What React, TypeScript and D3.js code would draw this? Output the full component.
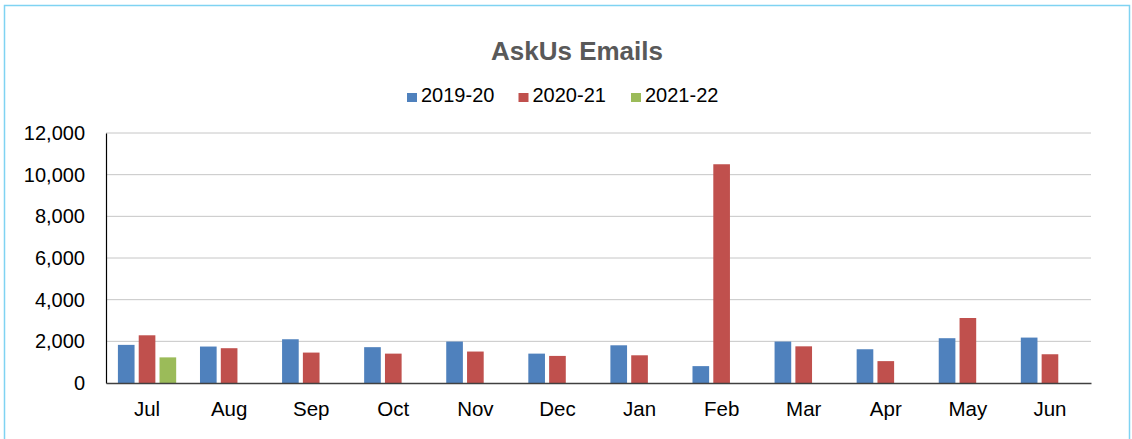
import React, { useEffect, useRef } from 'react';
import * as d3 from 'd3';

const months = ['Jul', 'Aug', 'Sep', 'Oct', 'Nov', 'Dec', 'Jan', 'Feb', 'Mar', 'Apr', 'May', 'Jun'];
const seriesNames = ['2019-20', '2020-21', '2021-22'];
const seriesColors = ['#4f81bd', '#c0504d', '#9bbb59'];
const values1920 = [1830, 1750, 2100, 1720, 1990, 1410, 1810, 810, 1990, 1620, 2150, 2180];
const values2021 = [2290, 1670, 1460, 1410, 1510, 1300, 1330, 10500, 1760, 1050, 3120, 1380];
const values2122: (number | null)[] = [1230, null, null, null, null, null, null, null, null, null, null, null];
const yTicks = [0, 2000, 4000, 6000, 8000, 10000, 12000];

export default function App() {
  const svgRef = useRef<SVGSVGElement | null>(null);
  const width = 1132;
  const height = 439;

  useEffect(() => {
    const svg = d3.select(svgRef.current!);
    svg.selectAll('*').remove();
    const margin = { top: 133, right: 41, bottom: 56, left: 106 };
    const font = 'Liberation Sans, Arial, sans-serif';

    // outer frame
    svg
      .append('rect')
      .attr('x', 4.5)
      .attr('y', 5.5)
      .attr('width', width - 7)
      .attr('height', height + 20)
      .attr('fill', 'white')
      .attr('stroke', '#7fd3f2')
      .attr('stroke-width', 1.5);

    svg
      .append('text')
      .attr('x', 577)
      .attr('y', 60)
      .attr('text-anchor', 'middle')
      .attr('font-family', font)
      .attr('font-weight', 'bold')
      .attr('font-size', 26)
      .attr('fill', '#595959')
      .text('AskUs Emails');

    const y = d3
      .scaleLinear()
      .domain([0, 12000])
      .range([height - margin.bottom, margin.top]);
    const x0 = d3
      .scaleBand<string>()
      .domain(months)
      .range([margin.left, width - margin.right])
      .paddingInner(0.29)
      .paddingOuter(0.145);
    const x1 = d3
      .scaleBand<string>()
      .domain(seriesNames)
      .range([0, x0.bandwidth()])
      .paddingInner(0.2);

    // gridlines
    const grid = svg.append('g');
    grid
      .selectAll('line')
      .data(yTicks.filter((t) => t > 0))
      .join('line')
      .attr('x1', margin.left)
      .attr('x2', width - margin.right)
      .attr('y1', (d) => y(d))
      .attr('y2', (d) => y(d))
      .attr('stroke', '#c6c6c6')
      .attr('stroke-width', 1);

    const allSeries = [values1920, values2021, values2122];
    const bars = svg.append('g');
    allSeries.forEach((vals, si) => {
      bars
        .append('g')
        .selectAll('rect')
        .data(vals.map((v, i) => ({ m: months[i], v })).filter((d) => d.v != null))
        .join('rect')
        .attr('x', (d) => (x0(d.m) || 0) + (x1(seriesNames[si]) || 0))
        .attr('y', (d) => y(d.v as number))
        .attr('width', x1.bandwidth())
        .attr('height', (d) => y(0) - y(d.v as number))
        .attr('fill', seriesColors[si]);
    });

    // y axis
    const yAxis = svg
      .append('g')
      .attr('transform', `translate(${margin.left},0)`)
      .call(
        d3
          .axisLeft(y)
          .tickValues(yTicks)
          .tickSize(0)
          .tickPadding(21)
          .tickFormat((d) => d3.format(',')(d as number))
      );
    yAxis.select('.domain').attr('stroke', '#000').attr('stroke-width', 1.2);
    yAxis
      .selectAll('text')
      .attr('font-family', font)
      .attr('font-size', 20)
      .attr('fill', '#000');

    // x axis
    const xAxis = svg
      .append('g')
      .attr('transform', `translate(0,${y(0)})`)
      .call(d3.axisBottom(x0).tickSize(0).tickPadding(18).tickSizeOuter(0));
    xAxis.select('.domain').attr('stroke', '#404040').attr('stroke-width', 1.5);
    xAxis
      .selectAll('text')
      .attr('font-family', font)
      .attr('font-size', 20.5)
      .attr('fill', '#000');

    // legend
    const legendX = [407, 518.5, 631];
    const legend = svg.append('g');
    seriesNames.forEach((name, i) => {
      legend
        .append('rect')
        .attr('x', legendX[i])
        .attr('y', 93)
        .attr('width', 10)
        .attr('height', 9)
        .attr('fill', seriesColors[i]);
      legend
        .append('text')
        .attr('x', legendX[i] + 14)
        .attr('y', 102)
        .attr('font-family', font)
        .attr('font-size', 20)
        .attr('fill', '#000')
        .text(name);
    });
  }, []);

  return (
    <svg
      ref={svgRef}
      width={width}
      height={height}
      style={{ position: 'absolute', left: 0, top: 0, background: 'white' }}
    />
  );
}
